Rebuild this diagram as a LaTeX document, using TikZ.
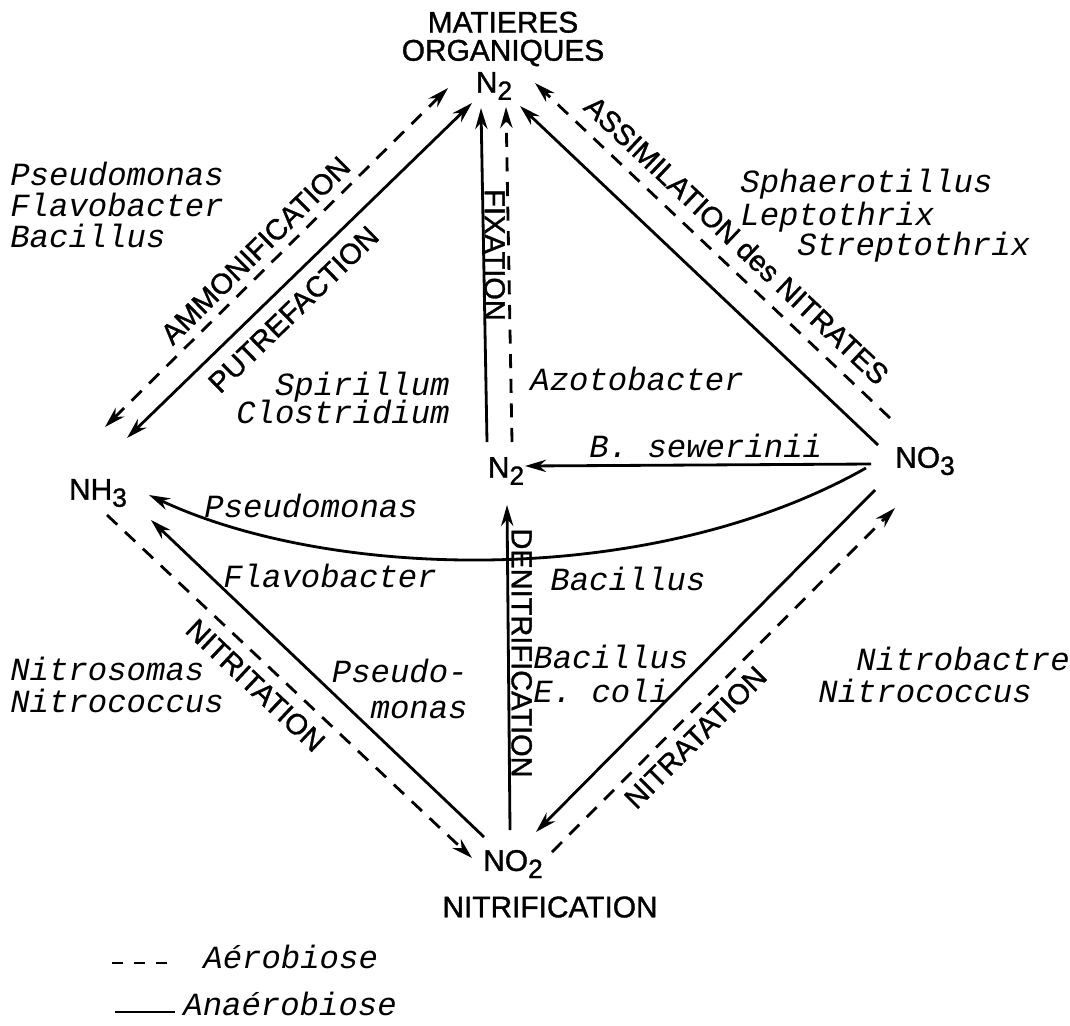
\documentclass[tikz,border=0pt]{standalone}
\usepackage{fontspec}
\setmainfont{Liberation Sans}
\newfontfamily\labelfont{Liberation Sans}[FakeBold=1.2]
\newfontfamily\typefont{Liberation Mono}
\usetikzlibrary{arrows.meta}
\newcommand\chemsub[1]{\raisebox{-0.45ex}{\fontsize{15}{15}\selectfont #1}}
\tikzset{
  chem/.style={font=\labelfont\fontsize{17}{16}\selectfont, inner sep=0pt, align=center},
  proc/.style={font=\labelfont\fontsize{16.5}{18}\selectfont, inner sep=0pt, text height=0.72em, text depth=0pt},
  bact/.style={font=\typefont\itshape\fontsize{18.4}{20}\selectfont, inner sep=0pt,
    text height=1.2ex, text depth=0pt, anchor=west},
  aero/.style={line width=1.6pt, dash pattern=on 8pt off 6pt},
  anaero/.style={line width=1.6pt},
  flow/.style={-{Stealth[length=12pt,width=7pt]}},
  bothflow/.style={{Stealth[length=12pt,width=7pt]}-{Stealth[length=12pt,width=7pt]}},
}
\begin{document}
\begin{tikzpicture}[x=0.02cm, y=-0.02cm]
  \useasboundingbox (0,0) rectangle (1070,1025);

  % compounds
  \node[chem] (mo)    at (503,39)  {MATIERES\\ORGANIQUES};
  \node[chem] (n2top) at (494,86)  {N\chemsub{2}};
  \node[chem] (nh3)   at (98,493)  {NH\chemsub{3}};
  \node[chem] (no3)   at (925,461) {NO\chemsub{3}};
  \node[chem] (n2mid) at (506,471) {N\chemsub{2}};
  \node[chem] (no2)   at (513,864) {NO\chemsub{2}};
  \node[chem] (nitrif) at (550,907) {NITRIFICATION};

  % end points of the connectors
  \coordinate (amm-a) at (105,427);  \coordinate (amm-b) at (448,88);
  \coordinate (put-a) at (127,438);  \coordinate (put-b) at (472,103);
  \coordinate (fix-a) at (487,442);  \coordinate (fix-b) at (481,108);
  \coordinate (fixd-a) at (512,442); \coordinate (fixd-b) at (506,107);
  \coordinate (ass-a) at (878,445);  \coordinate (ass-b) at (520,106);
  \coordinate (assd-a) at (890,418); \coordinate (assd-b) at (535,83);
  \coordinate (sew-a) at (871,464);  \coordinate (sew-b) at (525,466);
  \coordinate (cur-a) at (866,468);  \coordinate (cur-b) at (149,495);
  \coordinate (nit-a) at (107,515);  \coordinate (nit-b) at (472,858);
  \coordinate (nis-a) at (484,837);  \coordinate (nis-b) at (151,520);
  \coordinate (den-a) at (510,830);  \coordinate (den-b) at (507,505);
  \coordinate (nts-a) at (875,490);  \coordinate (nts-b) at (536,832);
  \coordinate (ntd-a) at (552,852);  \coordinate (ntd-b) at (895,508);

  % connectors
  \draw[aero, bothflow] (amm-a) -- (amm-b);
  \draw[anaero, bothflow] (put-a) -- (put-b);
  \draw[anaero, flow] (fix-a) -- (fix-b);
  \draw[aero, flow] (fixd-a) -- (fixd-b);
  \draw[anaero, flow] (ass-a) -- (ass-b);
  \draw[aero, flow] (assd-a) -- (assd-b);
  \draw[anaero, flow] (sew-a) -- (sew-b);
  \draw[anaero, flow] (cur-a) .. controls (650,590) and (330,580) .. (cur-b);
  \draw[aero, flow] (nit-a) -- (nit-b);
  \draw[anaero, flow] (nis-a) -- (nis-b);
  \draw[anaero, flow] (den-a) -- (den-b);
  \draw[anaero, flow] (nts-a) -- (nts-b);
  \draw[aero, flow] (ntd-a) -- (ntd-b);

  % processes
  \node[proc, rotate=44.7] (ammlab) at (258,253) {AMMONIFICATION};
  \node[proc, rotate=44.2] (putlab) at (296,312) {PUTREFACTION};
  \node[proc, rotate=-43.3] (asslab) at (734,243) {ASSIMILATION des NITRATES};
  \node[proc, rotate=-90] (fixlab) at (491,255) {FIXATION};
  \node[proc, rotate=-90] (denlab) at (518,653) {DENITRIFICATION};
  \node[proc, rotate=-43.3] (nitlab) at (253,688) {NITRITATION};
  \node[proc, rotate=45] (ntalab) at (698,740) {NITRATATION};

  % bacteria
  \node[bact] (b1) at (10,180) {Pseudomonas};
  \node[bact] (b2) at (10,211) {Flavobacter};
  \node[bact] (b3) at (10,242) {Bacillus};
  \node[bact] (b4) at (740,187) {Sphaerotillus};
  \node[bact] (b5) at (740,220) {Leptothrix};
  \node[bact] (b6) at (797,250) {Streptothrix};
  \node[bact, anchor=east] (b7) at (450,390) {Spirillum};
  \node[bact, anchor=east] (b8) at (450,418) {Clostridium};
  \node[bact] (b9) at (530,385) {Azotobacter};
  \node[bact] (b10) at (589,452) {B. sewerinii};
  \node[bact] (b11) at (204,512) {Pseudomonas};
  \node[bact] (b12) at (223,582) {Flavobacter};
  \node[bact] (b13) at (550,585) {Bacillus};
  \node[bact] (b14) at (10,675) {Nitrosomas};
  \node[bact] (b15) at (10,707) {Nitrococcus};
  \node[bact, anchor=east] (b16) at (468,677) {Pseudo-};
  \node[bact, anchor=east] (b17) at (468,713) {monas};
  \node[bact] (b18) at (533,663) {Bacillus};
  \node[bact] (b19) at (533,697) {E. coli};
  \node[bact] (b20) at (856,665) {Nitrobactre};
  \node[bact] (b21) at (818,697) {Nitrococcus};

  % legend
  \coordinate (leg-a1) at (112,963); \coordinate (leg-a2) at (168,963);
  \coordinate (leg-b1) at (115,1012); \coordinate (leg-b2) at (175,1012);
  \draw[aero, dash pattern=on 6.5pt off 6pt] (leg-a1) -- (leg-a2);
  \draw[anaero] (leg-b1) -- (leg-b2);
  \node[bact] (aer) at (203,963) {Aérobiose};
  \node[bact] (anaer) at (183,1010) {Anaérobiose};
\end{tikzpicture}
\end{document}
